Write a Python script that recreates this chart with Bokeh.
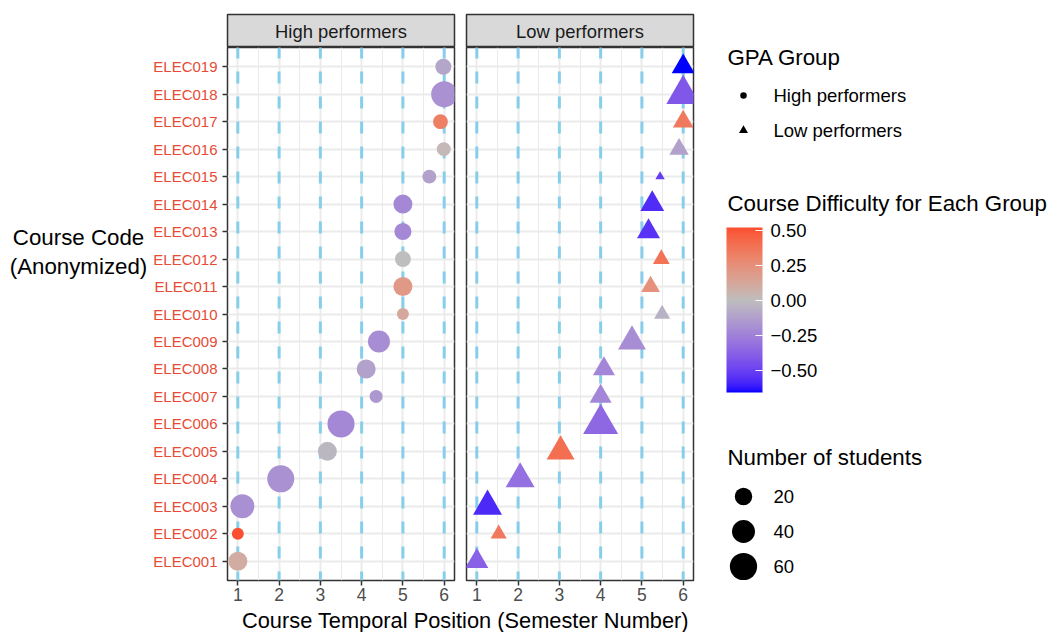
from bokeh.plotting import figure
from bokeh.models import (Range1d, FactorRange, FixedTicker, Span, Label, ColorBar,
                          LinearColorMapper, ColumnDataSource)
from bokeh.layouts import row, column
from bokeh.embed import file_html
from bokeh.resources import INLINE

# ---------------- data ----------------
courses = ["ELEC001", "ELEC002", "ELEC003", "ELEC004", "ELEC005", "ELEC006", "ELEC007",
           "ELEC008", "ELEC009", "ELEC010", "ELEC011", "ELEC012", "ELEC013", "ELEC014",
           "ELEC015", "ELEC016", "ELEC017", "ELEC018", "ELEC019"]
semesters = [1, 2, 3, 4, 5, 6]
groups = ["High performers", "Low performers"]

high_pos = [1.00, 1.00, 1.11, 2.04, 3.17, 3.50, 4.35, 4.11, 4.42, 5.00,
            5.00, 5.00, 5.00, 5.00, 5.64, 5.99, 5.91, 6.00, 5.98]
high_n = [25, 7, 44, 59, 25, 59, 9, 25, 36, 7, 25, 16, 19, 25, 11, 11, 13, 54, 16]
high_diff = [0.10, 0.52, -0.19, -0.18, -0.03, -0.22, -0.16, -0.12, -0.20, 0.12,
             0.20, 0.00, -0.22, -0.22, -0.12, 0.03, 0.33, -0.18, -0.10]

low_pos = [1.00, 1.53, 1.26, 2.05, 3.03, 4.00, 4.00, 4.08, 4.76, 5.49,
           5.21, 5.47, 5.16, 5.25, 5.44, 5.90, 6.00, 6.00, 6.00]
low_n = [19, 7, 34, 34, 31, 54, 17, 17, 31, 7, 11, 8, 19, 21, 1, 12, 14, 49, 19]
low_diff = [-0.38, 0.36, -0.58, -0.32, 0.40, -0.35, -0.23, -0.23, -0.20, -0.05,
            0.24, 0.38, -0.55, -0.57, -0.52, -0.12, 0.36, -0.42, -0.66]

color_ticks = [-0.5, -0.25, 0.0, 0.25, 0.5]
size_breaks = [20, 40, 60]

# ---------------- colour scale (gradient2 in Lab) ----------------
XN, YN, ZN = 0.95047, 1.0, 1.08883


def _lin(c):
    c = c / 255.0
    return c / 12.92 if c <= 0.04045 else ((c + 0.055) / 1.055) ** 2.4


def _gam(c):
    c = 12.92 * c if c <= 0.0031308 else 1.055 * (max(c, 0) ** (1 / 2.4)) - 0.055
    return int(max(0, min(255, round(c * 255))))


def hex_to_lab(h):
    h = h.lstrip("#")
    r, g, b = [_lin(int(h[i:i + 2], 16)) for i in (0, 2, 4)]
    X = 0.4124564 * r + 0.3575761 * g + 0.1804375 * b
    Y = 0.2126729 * r + 0.7151522 * g + 0.0721750 * b
    Z = 0.0193339 * r + 0.1191920 * g + 0.9503041 * b

    def f(t):
        return t ** (1 / 3) if t > 216 / 24389 else (24389 / 27 * t + 16) / 116
    fx, fy, fz = f(X / XN), f(Y / YN), f(Z / ZN)
    return (116 * fy - 16, 500 * (fx - fy), 200 * (fy - fz))


def lab_to_hex(L, a, b):
    fy = (L + 16) / 116
    fx = fy + a / 500
    fz = fy - b / 200

    def finv(t):
        return t ** 3 if t ** 3 > 216 / 24389 else (116 * t - 16) / (24389 / 27)
    X, Y, Z = finv(fx) * XN, finv(fy) * YN, finv(fz) * ZN
    r = 3.2404542 * X - 1.5371385 * Y - 0.4985314 * Z
    g = -0.9692660 * X + 1.8760108 * Y + 0.0415560 * Z
    bb = 0.0556434 * X - 0.2040259 * Y + 1.0572252 * Z
    return "#%02x%02x%02x" % (_gam(r), _gam(g), _gam(bb))


LOW_LAB, MID_LAB, HIGH_LAB = hex_to_lab("#0000ff"), hex_to_lab("#bebebe"), hex_to_lab("#ff0000")
all_diff = high_diff + low_diff
d_min, d_max = min(all_diff), max(all_diff)
d_abs = max(abs(d_min), abs(d_max))


def diff_color(v):
    t = v / d_abs
    end = LOW_LAB if t < 0 else HIGH_LAB
    t = min(abs(t), 1.0)
    return lab_to_hex(*[m + (e - m) * t for m, e in zip(MID_LAB, end)])


def dot_size(n):
    return 4 + 3 * n ** 0.5


TRI = 1.347  # equal-area triangle width relative to circle diameter

FONT = "Liberation Sans"
RED_LAB = "#E64B35"

# ---------------- layout constants ----------------
FRAME_W = 227
FRAME_H = 533
YTITLE_W = 150
LEFT_BORDER = 227
BOTTOM = 27
PANEL_H = FRAME_H + BOTTOM
STRIP_H = 47


def make_strip(text, left, right):
    s = figure(width=left + FRAME_W + right, height=STRIP_H, x_range=Range1d(0, 1), y_range=Range1d(0, 1),
               toolbar_location=None, output_backend="svg", x_axis_location=None, y_axis_location=None,
               min_border_left=left, min_border_right=right, min_border_top=STRIP_H - 33, min_border_bottom=0)
    s.grid.visible = False
    s.background_fill_color = "#d9d9d9"
    s.outline_line_color = "#333333"
    s.outline_line_width = 1.5
    s.add_layout(Label(x=0.5, y=0.5, text=text, text_align="center", text_baseline="middle",
                       text_font=FONT, text_font_size="18.4px", text_color="#1a1a1a"))
    return s


def make_panel(pos, n, diff, marker, left, right, show_y):
    p = figure(width=left + FRAME_W + right, height=PANEL_H,
               x_range=Range1d(0.75, 6.25),
               y_range=FactorRange(factors=courses, range_padding=0.2, range_padding_units="absolute"),
               toolbar_location=None, output_backend="svg",
               min_border_left=left, min_border_right=right, min_border_top=0, min_border_bottom=BOTTOM)
    p.outline_line_color = "#333333"
    p.outline_line_width = 1.5
    minor = [(a + b) / 2 for a, b in zip(semesters[:-1], semesters[1:])]
    p.xaxis.ticker = FixedTicker(ticks=semesters, minor_ticks=minor)
    p.xaxis.axis_line_color = None
    p.xaxis.major_tick_line_color = "#333333"
    p.xaxis.major_tick_line_width = 1.5
    p.xaxis.major_tick_out = 5
    p.xaxis.major_tick_in = 0
    p.xaxis.minor_tick_line_color = None
    p.xaxis.major_label_standoff = 2
    p.xaxis.major_label_text_font = FONT
    p.xaxis.major_label_text_font_size = "17.5px"
    p.xaxis.major_label_text_color = "#4d4d4d"

    p.yaxis.axis_line_color = None
    p.yaxis.major_tick_line_color = "#333333"
    p.yaxis.major_tick_line_width = 1.5
    p.yaxis.major_tick_out = 5
    p.yaxis.major_tick_in = 0
    p.yaxis.major_label_standoff = 5
    p.yaxis.major_label_text_font = FONT
    p.yaxis.major_label_text_font_size = "15px"
    p.yaxis.major_label_text_color = RED_LAB
    if not show_y:
        p.yaxis.visible = False

    p.xgrid.grid_line_color = "#ebebeb"
    p.xgrid.grid_line_width = 2
    p.xgrid.minor_grid_line_color = "#ebebeb"
    p.xgrid.minor_grid_line_width = 1
    p.ygrid.grid_line_color = "#ebebeb"
    p.ygrid.grid_line_width = 2

    for s in semesters:
        p.add_layout(Span(location=s, dimension="height", line_color="#87CEEB", line_width=3,
                          line_dash="12 13", line_dash_offset=1, level="underlay"))

    src = ColumnDataSource(dict(
        x=pos, y=courses,
        size=[dot_size(v) * (TRI if marker == "triangle" else 1.0) for v in n],
        color=[diff_color(v) for v in diff]))
    p.scatter(x="x", y="y", size="size", marker=marker, fill_color="color", line_color=None, source=src)
    return p


stripA = make_strip(groups[0], LEFT_BORDER, 6)
stripB = make_strip(groups[1], 6, 3)
panelA = make_panel(high_pos, high_n, high_diff, "circle", LEFT_BORDER - YTITLE_W, 6, True)
panelB = make_panel(low_pos, low_n, low_diff, "triangle", 6, 3, False)

# y-axis title (horizontal, two lines) in its own strip of canvas
ytitle = figure(width=YTITLE_W, height=PANEL_H, x_range=Range1d(0, 1), y_range=Range1d(0, 1),
                toolbar_location=None, output_backend="svg", x_axis_location=None, y_axis_location=None,
                min_border=0, outline_line_color=None)
ytitle.grid.visible = False
for txt, yc in (("Course Code", 264), ("(Anonymized)", 293)):
    ytitle.add_layout(Label(x=78, y=PANEL_H - (yc - STRIP_H), x_units="screen", y_units="screen",
                            text=txt, text_align="center", text_baseline="middle",
                            text_font=FONT, text_font_size="22.3px", text_color="#000000"))

TOTAL_W = (LEFT_BORDER + FRAME_W + 6) + (6 + FRAME_W + 3)
TITLE_H = 632 - STRIP_H - PANEL_H
titleF = figure(width=TOTAL_W, height=TITLE_H, x_range=Range1d(0, 1), y_range=Range1d(0, 1),
                toolbar_location=None, output_backend="svg", x_axis_location=None, y_axis_location=None,
                min_border=0, outline_line_color=None)
titleF.grid.visible = False
titleF.add_layout(Label(x=465, y=TITLE_H / 2, x_units="screen", y_units="screen",
                        text="Course Temporal Position (Semester Number)", text_align="center",
                        text_baseline="middle", text_font=FONT, text_font_size="21.8px", text_color="#000000"))

# ---------------- legends ----------------
LEG_W, LEG_H = 1048 - TOTAL_W, 632
leg = figure(width=LEG_W, height=LEG_H, x_range=Range1d(0, LEG_W), y_range=Range1d(LEG_H, 0),
             toolbar_location=None, output_backend="svg", x_axis_location=None, y_axis_location=None,
             min_border=0, outline_line_color=None)
leg.grid.visible = False

T_X, KEY_X, LAB_X = 31, 47, 77


def leg_text(x, y, text, size):
    leg.add_layout(Label(x=x, y=y, text=text, text_align="left", text_baseline="middle",
                         text_font=FONT, text_font_size=size, text_color="#000000"))


leg_text(T_X, 57, "GPA Group", "22.3px")
gpa_rows = [95, 130]
leg.scatter(x=[KEY_X, KEY_X], y=gpa_rows, marker=["circle", "triangle"], size=[6.5, 9],
            fill_color="#000000", line_color=None)
for yy, g in zip(gpa_rows, groups):
    leg_text(LAB_X, yy, g, "18.5px")

leg_text(T_X, 203, "Course Difficulty for Each Group", "22.3px")
palette = [diff_color(d_min + (d_max - d_min) * i / 255) for i in range(256)]
mapper = LinearColorMapper(palette=palette, low=d_min, high=d_max)
overrides = {t: ("\u2212" if t < 0 else "") + "%.2f" % abs(t) for t in color_ticks}
cb = ColorBar(color_mapper=mapper, location=(30, LEG_H - 392), width=36, height=165,
              orientation="vertical", padding=0, margin=0,
              ticker=FixedTicker(ticks=color_ticks), major_label_overrides=overrides,
              major_label_text_font=FONT, major_label_text_font_size="18.5px",
              major_label_text_color="#000000", label_standoff=8,
              major_tick_line_color="#ffffff", major_tick_line_width=1, major_tick_in=7, major_tick_out=0,
              minor_tick_line_color=None, bar_line_color=None, border_line_color=None,
              background_fill_color=None)
leg.add_layout(cb)

leg_text(T_X, 457, "Number of students", "22.3px")
size_rows = [496 + 35 * i for i in range(len(size_breaks))]
leg.scatter(x=[KEY_X] * len(size_breaks), y=size_rows, size=[dot_size(b) for b in size_breaks],
            fill_color="#000000", line_color=None)
for yy, b in zip(size_rows, size_breaks):
    leg_text(LAB_X, yy, str(b), "18.5px")

layout = row(column(row(stripA, stripB), row(ytitle, panelA, panelB), titleF), leg)

open("out.html", "w").write(file_html(layout, INLINE))
